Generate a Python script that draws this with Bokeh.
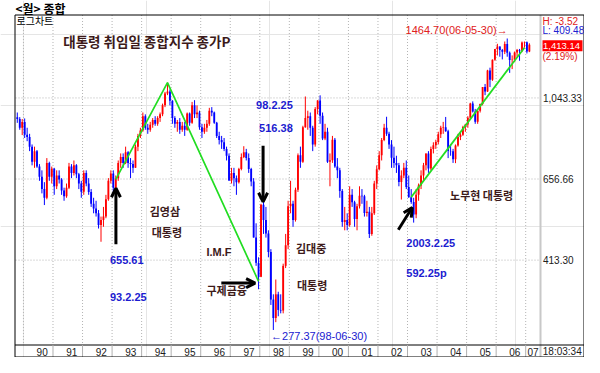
import math
from bokeh.plotting import figure
from bokeh.models import Range1d, Arrow, OpenHead, LinearScale
from bokeh.core.properties import value
from bokeh.embed import file_html
from bokeh.resources import INLINE

# ---------------- data (monthly KOSPI candles, Oct 1989 .. Feb 2007) ----------------
start_year, start_month = 1989, 10

opens = [
    935, 925, 880,                                                   # 1989 Oct-Dec
    909, 845, 835, 790, 725, 770, 705, 665, 620, 590, 720, 665,      # 1990
    696, 630, 670, 655, 615, 595, 625, 705, 680, 710, 675, 640,      # 1991
    611, 680, 640, 610, 570, 555, 540, 505, 520, 530, 585, 650,      # 1992
    678, 625, 660, 720, 745, 720, 765, 720, 715, 700, 790, 840,      # 1993
    866, 940, 880, 870, 895, 920, 900, 930, 950, 1000, 1070, 1082,   # 1994
    1027, 930, 900, 910, 870, 890, 870, 955, 905, 1000, 950, 960,    # 1995
    883, 860, 880, 900, 970, 960, 905, 840, 820, 810, 780, 750,      # 1996
    651, 680, 660, 645, 695, 745, 765, 740, 695, 647, 470, 407,      # 1997
    376, 567, 520, 481, 433, 330, 297, 340, 311, 310, 400, 450,      # 1998
    562, 570, 520, 618, 752, 725, 883, 930, 940, 880, 800, 980,      # 1999
    1028, 943, 828, 860, 725, 731, 822, 705, 690, 613, 514, 520,     # 2000
    505, 600, 575, 523, 562, 597, 595, 541, 545, 480, 540, 640,      # 2001
    694, 752, 820, 880, 850, 800, 742, 720, 710, 646, 670, 700,      # 2002
    627, 592, 576, 536, 600, 633, 670, 710, 760, 697, 780, 796,      # 2003
    811, 848, 880, 883, 862, 771, 770, 735, 795, 835, 846, 884,      # 2004
    896, 932, 1011, 965, 911, 970, 1008, 1110, 1083, 1221, 1158, 1297,   # 2005
    1379, 1399, 1371, 1359, 1419, 1351, 1295, 1297, 1352, 1371, 1365, 1432,  # 2006
    1434, 1360,                                                      # 2007 Jan-Feb
]
highs = [
    960, 935, 925,
    928, 880, 850, 800, 790, 775, 715, 690, 645, 740, 725, 705,
    700, 690, 690, 660, 625, 640, 720, 715, 730, 715, 680, 650,
    690, 690, 660, 620, 590, 580, 550, 530, 560, 600, 660, 690,
    690, 670, 730, 760, 760, 790, 770, 740, 730, 800, 850, 880,
    960, 950, 900, 910, 930, 940, 940, 960, 1010, 1080, 1138.75, 1095,
    1030, 940, 920, 930, 910, 910, 960, 960, 1020, 1030, 1000, 970,
    900, 900, 920, 986, 990, 965, 910, 860, 840, 830, 790, 760,
    700, 700, 670, 700, 760, 792, 780, 760, 700, 660, 510, 420,
    570, 580, 560, 490, 440, 340, 370, 345, 340, 405, 480, 580,
    650, 580, 625, 760, 790, 890, 1052, 970, 960, 890, 990, 1030,
    1059, 960, 900, 880, 760, 840, 830, 740, 700, 620, 560, 540,
    630, 620, 580, 570, 630, 620, 600, 580, 560, 560, 650, 710,
    770, 830, 900, 937, 860, 820, 790, 750, 720, 690, 720, 730,
    670, 620, 590, 620, 640, 690, 720, 760, 770, 790, 810, 822,
    860, 890, 910, 936, 870, 800, 780, 800, 850, 860, 890, 900,
    940, 1015, 1023, 980, 970, 1010, 1110, 1130, 1225, 1240, 1300, 1380,
    1421, 1400, 1380, 1440, 1464.70, 1360, 1330, 1360, 1380, 1380, 1440, 1440,
    1440, 1425,
]
lows = [
    905, 870, 844,
    830, 815, 770, 710, 700, 700, 650, 605, 566, 585, 650, 640,
    600, 620, 640, 600, 580, 590, 620, 660, 670, 660, 620, 590,
    600, 630, 600, 560, 540, 530, 495, 459, 500, 525, 580, 640,
    610, 600, 650, 700, 700, 715, 700, 660, 680, 700, 770, 830,
    860, 870, 850, 860, 880, 890, 890, 910, 940, 990, 1060, 1000,
    900, 880, 860, 850, 860, 840, 865, 890, 900, 930, 930, 870,
    830, 850, 860, 890, 940, 900, 830, 800, 780, 770, 730, 650,
    640, 630, 600, 640, 690, 740, 730, 680, 630, 470, 400, 350,
    375, 480, 470, 420, 320, 277.37, 290, 300, 305, 305, 395, 440,
    540, 500, 515, 610, 700, 720, 880, 870, 840, 770, 790, 950,
    900, 820, 820, 720, 630, 720, 700, 660, 590, 500, 490, 490,
    500, 560, 500, 490, 555, 570, 530, 530, 469, 475, 535, 620,
    690, 730, 815, 840, 780, 700, 700, 680, 630, 584, 660, 620,
    590, 570, 512, 525, 580, 620, 650, 690, 680, 690, 760, 780,
    800, 830, 850, 860, 740, 750, 720, 719, 790, 820, 840, 860,
    880, 925, 960, 900, 900, 960, 1000, 1060, 1080, 1110, 1150, 1290,
    1330, 1320, 1300, 1340, 1320, 1204, 1230, 1280, 1320, 1290, 1355, 1390,
    1345, 1355,
]
closes = [
    925, 880, 909,
    845, 835, 790, 725, 770, 705, 665, 620, 590, 720, 665, 696,
    630, 670, 655, 615, 595, 625, 705, 680, 710, 675, 640, 611,
    680, 640, 610, 570, 555, 540, 505, 520, 530, 585, 650, 678,
    625, 660, 720, 745, 720, 765, 720, 715, 700, 790, 840, 866,
    940, 880, 870, 895, 920, 900, 930, 950, 1000, 1070, 1082, 1027,
    930, 900, 910, 870, 890, 870, 955, 905, 1000, 950, 960, 883,
    860, 880, 900, 970, 960, 905, 840, 820, 810, 780, 750, 651,
    680, 660, 645, 695, 745, 765, 740, 695, 647, 470, 407, 376,
    567, 520, 481, 433, 330, 297, 340, 311, 310, 400, 450, 562,
    570, 520, 618, 752, 725, 883, 930, 940, 880, 800, 980, 1028,
    943, 828, 860, 725, 731, 822, 705, 690, 613, 514, 520, 505,
    600, 575, 523, 562, 597, 595, 541, 545, 480, 540, 640, 694,
    752, 820, 880, 850, 800, 742, 720, 710, 646, 670, 700, 627,
    592, 576, 536, 600, 633, 670, 710, 760, 697, 780, 796, 811,
    848, 880, 883, 862, 771, 770, 735, 795, 835, 846, 884, 896,
    932, 1011, 965, 911, 970, 1008, 1110, 1083, 1221, 1158, 1297, 1379,
    1399, 1371, 1359, 1419, 1351, 1295, 1297, 1352, 1371, 1365, 1432, 1434,
    1360, 1413.14,
]

year_labels = ["90", "91", "92", "93", "94", "95", "96", "97", "98",
               "99", "00", "01", "02", "03", "04", "05", "06", "07"]
y_ticks = [413.30, 656.66, 1043.33]
y_tick_labels = ["413.30", "656.66", "1,043.33"]

# inauguration trend lines (year, month) -> index value
green1_dates = [(1993, 2), (1994, 11), (1997, 12)]
green1_vals = [655.61, 1138.75, 366.0]
green2_dates = [(2003, 2), (2006, 12)]
green2_vals = [592.25, 1390.0]

# ---------------- geometry (figure pixels) ----------------
W, H = 584, 357
SX = 526.0 / 529.0      # horizontal squeeze of the chart area
SY = 0.9677             # vertical squeeze of the chart area
X0 = 14 + 9 * SX        # x where Jan 1990 starts
PXM = 2.476 * SX        # pixels per month
Y1043 = 14.5 + 85.7 * SY  # y of 1043.33
PXLN = 181.0 * SY       # pixels per natural-log unit
ROW_TOP, ROW_BOT = 344.5, 356.5
RIGHT_X = 540.0         # right edge of chart area
FRAME_R = 583.5


def mx(year, month):
    return (year - 1990) * 12 + (month - 1) + 0.5


def rx(X):
    if X <= 543:
        return 14 + (X - 14) * SX
    return RIGHT_X + (X - 543) * (FRAME_R - RIGHT_X) / 50.0


def ry(Y):
    return 14.5 + (Y - 15) * SY


def val_at(fy):
    return 1043.33 * math.exp((Y1043 - fy) / PXLN)


KR = "Noto Sans CJK KR"
LS = "Liberation Sans"

p = figure(width=W, height=H,
           x_range=Range1d(-X0 / PXM, (W - X0) / PXM),
           y_range=Range1d(val_at(H), val_at(0)),
           y_axis_type="log", x_axis_location=None, y_axis_location=None,
           output_backend="svg", toolbar_location=None,
           min_border=0, min_border_left=0, min_border_right=0,
           min_border_top=0, min_border_bottom=0)
p.outline_line_color = None
p.background_fill_color = "white"
p.border_fill_color = "white"
p.extra_x_ranges = {"pg": Range1d(0, W)}
p.extra_y_ranges = {"pg": Range1d(H, 0)}
p.extra_x_scales = {"pg": LinearScale()}
p.extra_y_scales = {"pg": LinearScale()}

# ---------------- grid ----------------
bounds = [12 * k for k in range(0, 18)]
p.segment(x0=bounds, x1=bounds, y0=[14.5] * len(bounds), y1=[ROW_TOP] * len(bounds),
          y_range_name="pg", line_color="#b4b4b4", line_width=1, line_dash="1 2")
p.segment(x0=[15] * 3, x1=[RIGHT_X] * 3, y0=y_ticks, y1=y_ticks,
          x_range_name="pg", line_color="#b4b4b4", line_width=1, line_dash="1 2")

# ---------------- candles ----------------
n = len(closes)
xs = []
yy, mm = start_year, start_month
for i in range(n):
    xs.append(mx(yy, mm))
    mm += 1
    if mm > 12:
        mm = 1
        yy += 1
cols = ["#ff0000" if c >= o else "#0000ff" for o, c in zip(opens, closes)]
tops = [max(o, c) for o, c in zip(opens, closes)]
bots = [min(o, c) for o, c in zip(opens, closes)]
p.segment(x0=xs, y0=lows, x1=xs, y1=highs, line_color=cols, line_width=1)
p.vbar(x=xs, width=0.75, top=tops, bottom=bots, fill_color=cols, line_color=None)

# ---------------- trend lines ----------------
p.line([mx(y, m) for y, m in green1_dates], green1_vals, line_color="#22dd22", line_width=1.7)
p.line([mx(y, m) for y, m in green2_dates], green2_vals, line_color="#22dd22", line_width=1.7)

# ---------------- arrows ----------------
for (xa, ya, xb, yb) in [(116, 252, 116, 194),
                         (264, 150, 264, 208),
                         (222, 292, 256, 292),
                         (400, 237, 414, 214)]:
    p.add_layout(Arrow(end=OpenHead(size=9, line_width=3, line_color="black"),
                       x_start=rx(xa), y_start=ry(ya), x_end=rx(xb), y_end=ry(yb),
                       line_width=3, line_color="black",
                       x_range_name="pg", y_range_name="pg"))

# ---------------- frame ----------------
p.segment(x0=[RIGHT_X], x1=[RIGHT_X], y0=[14.5], y1=[ROW_BOT], x_range_name="pg",
          y_range_name="pg", line_color="#c8c8c8", line_width=2)
p.segment(x0=[14.5], x1=[W], y0=[ROW_TOP], y1=[ROW_TOP], x_range_name="pg",
          y_range_name="pg", line_color="black", line_width=1)
p.segment(x0=bounds[1:], x1=bounds[1:], y0=[ROW_TOP] * 17, y1=[ROW_BOT] * 17,
          y_range_name="pg", line_color="#b0b0b0", line_width=1)
p.quad(left=[14.5], right=[FRAME_R], top=[14.5], bottom=[ROW_BOT], fill_color=None,
       line_color="black", line_width=1, x_range_name="pg", y_range_name="pg")


def txt(x, y, s, size, color, bold=False, font=KR, align="left", xr="pg", yr="pg"):
    kw = {}
    if xr:
        kw["x_range_name"] = xr
    if yr:
        kw["y_range_name"] = yr
    p.text(x=[x], y=[y], text=[s], text_font=value(font), text_font_size=f"{size}px",
           text_font_style="bold" if bold else "normal", text_color=color,
           text_align=align, text_baseline="middle", **kw)


ROW_MID = (ROW_TOP + ROW_BOT) / 2 + 0.5
# bottom row labels
for k, lab in enumerate(year_labels[:-1]):
    txt(12 * (k + 1) - 4.4, ROW_MID, lab, 10, "#202020", font=LS, align="center", xr=None)
txt((rx(528) + RIGHT_X) / 2, ROW_MID, year_labels[-1], 10, "#202020", font=LS, align="center")
txt((RIGHT_X + FRAME_R) / 2, ROW_MID, "18:03:34", 10, "#202020", font=LS, align="center")

# right axis labels
for t, lab in zip(y_ticks, y_tick_labels):
    txt(RIGHT_X + 2.5, t, lab, 10, "#202020", font=LS, yr=None)

# right panel
txt(RIGHT_X + 2, ry(22), "H: -3.52", 10, "#e02020", font=LS)
txt(RIGHT_X + 2, ry(31), "L: 409.48", 10, "#2020d0", font=LS)
p.quad(left=[RIGHT_X + 2], right=[FRAME_R - 1.5], top=[ry(41)], bottom=[ry(52.5)],
       fill_color="#ff0000", line_color=None, x_range_name="pg", y_range_name="pg")
txt(RIGHT_X + 2.5, ry(46.8), "1,413.14", 9.5, "white", font=LS)
txt(RIGHT_X + 2, ry(57.5), "(2.19%)", 10, "#e02020", font=LS)

# titles
txt(15, 7.5, "<월> 종합", 12, "black", bold=True)
txt(16, ry(21), "로그차트", 10, "black")
txt(rx(63), ry(42), "대통령 취임일 종합지수 종가P", 13.5, "#3c1a1a", bold=True)

# annotations
DK = "#3c1a1a"
BL = "#1c1cd0"
txt(rx(150), ry(218), "김영삼", 11, DK, bold=True)
txt(rx(152), ry(239), "대통령", 11, DK, bold=True)
txt(rx(207), ry(260), "I.M.F", 11, DK, bold=True, font=LS)
txt(rx(207), ry(299), "구제금융", 11, DK, bold=True)
txt(rx(297), ry(256), "김대중", 11, DK, bold=True)
txt(rx(298), ry(294), "대통령", 11, DK, bold=True)
txt(rx(452), ry(201), "노무현 대통령", 11, DK, bold=True)

txt(rx(110), ry(268), "655.61", 11, BL, bold=True, font=LS)
txt(rx(110), ry(306), "93.2.25", 11, BL, bold=True, font=LS)
txt(rx(257), ry(108), "98.2.25", 11, BL, bold=True, font=LS)
txt(rx(260), ry(132), "516.38", 11, BL, bold=True, font=LS)
txt(rx(408), ry(251), "2003.2.25", 11, BL, bold=True, font=LS)
txt(rx(408), ry(282), "592.25p", 11, BL, bold=True, font=LS)

txt(rx(272), ry(347), "←277.37(98-06-30)", 11, "#2020d0", font=LS)
txt(rx(510), ry(31), "1464.70(06-05-30)→", 11, "#e02020", font=LS, align="right")

open("out.html", "w", encoding="utf-8").write(file_html(p, INLINE))
